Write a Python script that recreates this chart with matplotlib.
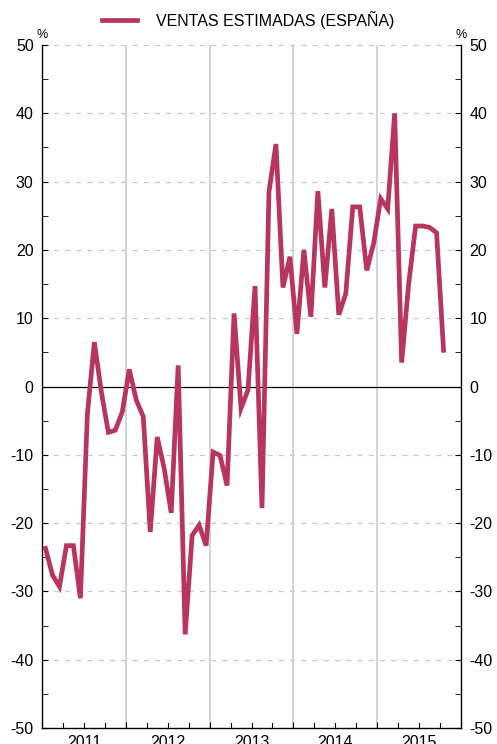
import matplotlib.pyplot as plt
import numpy as np

plt.rcParams['font.family'] = ['Liberation Sans', 'DejaVu Sans']
plt.rcParams['axes.unicode_minus'] = False

# variacion interanual mensual, ene-2011 a oct-2015
ventas = [-23.7, -27.6, -29.3, -23.3, -23.3, -31.0, -4.0, 6.5, -0.8, -6.7, -6.4, -3.7,
          2.5, -2.0, -4.4, -21.3, -7.4, -12.0, -18.5, 3.1, -36.3, -21.8, -20.3, -23.3,
          -9.6, -10.1, -14.5, 10.7, -3.2, -0.5, 14.7, -17.8, 28.5, 35.5, 14.5, 19.0,
          7.7, 20.0, 10.2, 28.6, 14.5, 26.0, 10.5, 13.6, 26.3, 26.3, 17.0, 21.0,
          27.5, 26.0, 40.0, 3.5, 15.0, 23.5, 23.5, 23.3, 22.5, 5.3]
anios = ['2011', '2012', '2013', '2014', '2015']
etiqueta = 'VENTAS ESTIMADAS (ESPAÑA)'
color_linea = '#B8365E'

x = np.arange(len(ventas)) + 0.5

fig = plt.figure(figsize=(4.97, 7.44), dpi=100)
ax = fig.add_axes([0.0845, 0.0215, 0.8431, 0.918])

ax.plot(x, ventas, color=color_linea, lw=3.4, solid_joinstyle='miter', label=etiqueta, zorder=3)
ax.axhline(0, color='black', lw=0.9, zorder=2)

ax.set_xlim(0, 12 * len(anios))
ax.set_ylim(-50, 50)

for k in range(1, len(anios)):
    ax.axvline(12 * k, color='#cccccc', lw=1.2, zorder=1)
for v in range(-40, 60, 10):
    if v != 0:
        ax.axhline(v, color='#c8c8c8', lw=0.9, ls=(0, (4, 5)), zorder=1, clip_on=False)

ax.spines['top'].set_visible(False)
for s in ['left', 'right', 'bottom']:
    ax.spines[s].set_linewidth(1.0)

ax.set_yticks(range(-50, 60, 10))
ax.set_yticks(range(-45, 50, 10), minor=True)
ax.tick_params(axis='y', which='both', direction='in', left=True, right=True,
               labelleft=True, labelright=True, labelsize=11.5, pad=6)
ax.tick_params(axis='y', which='major', length=4)
ax.tick_params(axis='y', which='minor', length=4)

ax.set_xticks([12 * k for k in range(len(anios) + 1)])
ax.set_xticklabels([])
ax.set_xticks([12 * k + 6 for k in range(len(anios))], minor=True)
ax.set_xticklabels(anios, minor=True)
ax.tick_params(axis='x', which='major', direction='in', length=4)
ax.tick_params(axis='x', which='minor', direction='in', length=0, labelsize=11.5, pad=5)
for q in range(len(anios)):
    for m in (3, 6, 9):
        ax.plot([12 * q + m, 12 * q + m], [-50, -49.3], color='black', lw=0.8, clip_on=False)

ax.text(0, 50.6, '%', ha='center', va='bottom', fontsize=9)
ax.text(60, 50.6, '%', ha='center', va='bottom', fontsize=9)

fig.legend(loc='upper center', bbox_to_anchor=(0.5, 1.005), frameon=False,
           fontsize=11.5, handlelength=2.2, handletextpad=1.2)

fig.savefig('out.png', dpi=100)
